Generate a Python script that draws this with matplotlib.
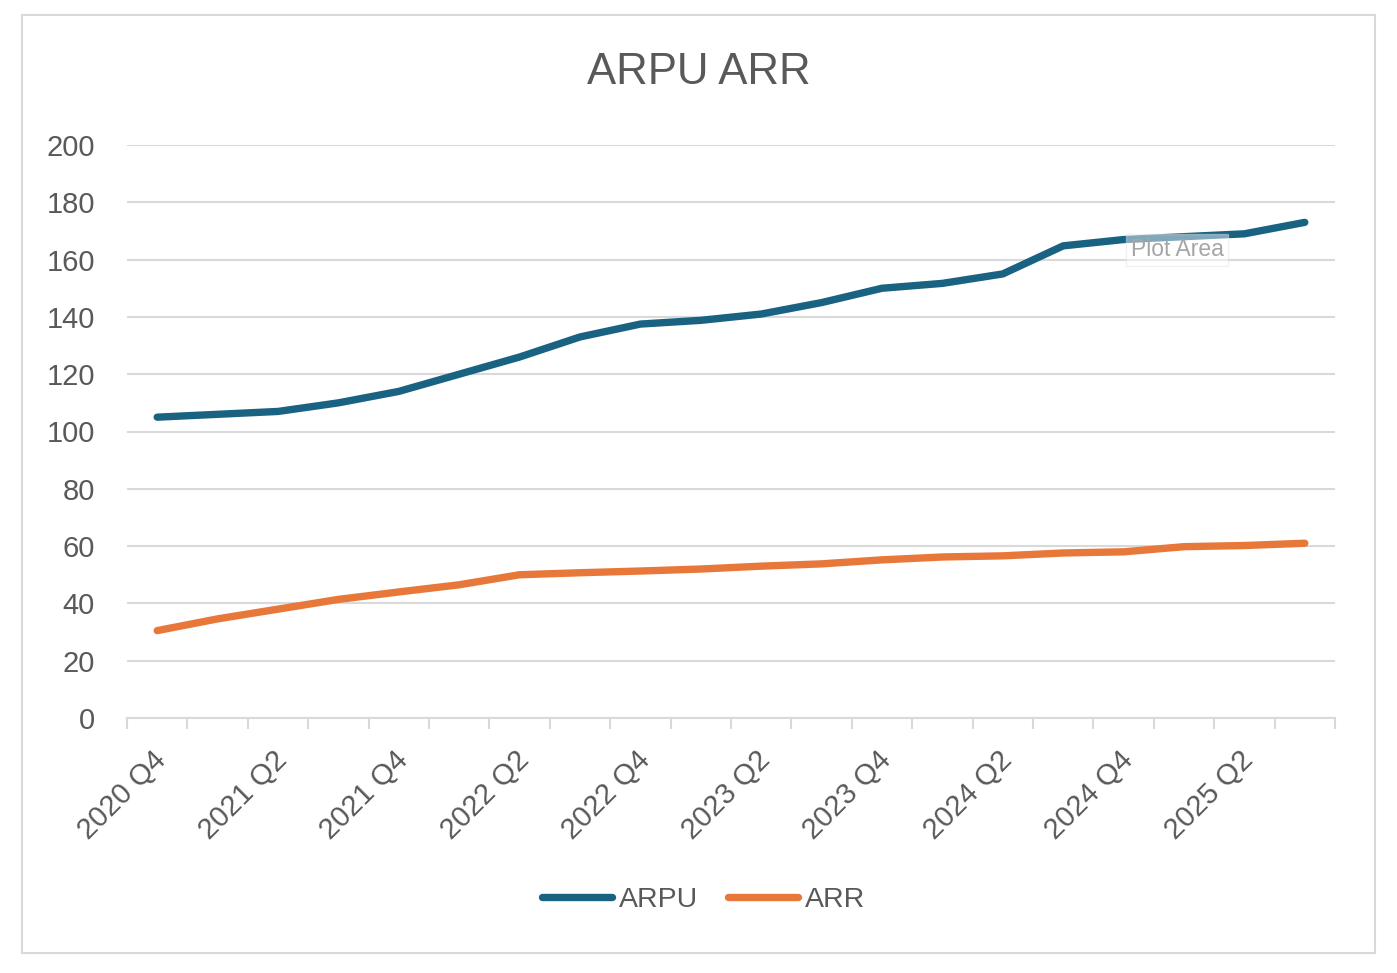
import matplotlib
matplotlib.use("Agg")
import matplotlib.pyplot as plt
from matplotlib.patches import Rectangle
from matplotlib.transforms import ScaledTranslation
import numpy as np

plt.rcParams['font.family'] = ['Liberation Sans', 'DejaVu Sans']

quarters = ["2020 Q4", "2021 Q1", "2021 Q2", "2021 Q3", "2021 Q4",
            "2022 Q1", "2022 Q2", "2022 Q3", "2022 Q4",
            "2023 Q1", "2023 Q2", "2023 Q3", "2023 Q4",
            "2024 Q1", "2024 Q2", "2024 Q3", "2024 Q4",
            "2025 Q1", "2025 Q2", "2025 Q3"]
arpu = [105, 106, 107, 110, 114, 120, 126, 133, 137.5, 138.8,
        141, 145, 150, 151.7, 155, 164.8, 167, 168, 169, 173]
arr = [30.5, 34.6, 38, 41.4, 44, 46.5, 50, 50.7, 51.3, 52,
       53, 53.8, 55.2, 56.2, 56.6, 57.6, 58, 59.8, 60.2, 61]
yticks = [0, 20, 40, 60, 80, 100, 120, 140, 160, 180, 200]

W, H = 1397, 973
fig = plt.figure(figsize=(W / 100, H / 100), dpi=100)
txt = '#595959'
grid = '#D9D9D9'

# chart border
fig.patches.append(Rectangle((22 / W, 1 - 953 / H), (1375 - 22) / W, (953 - 15) / H,
                             transform=fig.transFigure, fill=False,
                             edgecolor=grid, linewidth=1.5, zorder=0))

ax = fig.add_axes([127 / W, 1 - 718 / H, (1335 - 127) / W, (718 - 145) / H])
x = np.arange(len(quarters))
ax.plot(x, arpu, color='#1A6282', lw=5.3, solid_capstyle='round',
        solid_joinstyle='round', label='ARPU', zorder=3)
ax.plot(x, arr, color='#E8773A', lw=5.3, solid_capstyle='round',
        solid_joinstyle='round', label='ARR', zorder=3)

ax.set_xlim(-0.5, len(quarters) - 0.5)
ax.set_ylim(0, 200)
ax.set_yticks(yticks)
ax.set_yticklabels([str(v) for v in yticks])
ax.tick_params(axis='y', length=0, pad=23, labelsize=21, labelcolor=txt)
for t in ax.get_yticklabels():
    t.set_horizontalalignment('right')
ax.grid(axis='y', color=grid, lw=1.5, zorder=0)
ax.set_axisbelow(True)

# x axis: boundary ticks, labels every 2 quarters
ax.set_xticks(np.arange(-0.5, len(quarters)), labels=[''] * (len(quarters) + 1))
ax.set_xticks(x[::2], labels=quarters[::2], minor=True)
ax.tick_params(axis='x', which='major', length=8, width=1.5, color=grid)
ax.tick_params(axis='x', which='minor', length=0, pad=27, labelsize=21, labelcolor=txt)
for t in ax.get_xticklabels(minor=True):
    t.set_rotation(45)
    t.set_horizontalalignment('right')
    t.set_verticalalignment('center')
    t.set_rotation_mode('anchor')
    t.set_transform(t.get_transform() + ScaledTranslation(5 / 100, 0, fig.dpi_scale_trans))

for s in ['top', 'right', 'left']:
    ax.spines[s].set_visible(False)
ax.spines['bottom'].set_color(grid)
ax.spines['bottom'].set_linewidth(1.5)

fig.text(0.5, 1 - 72 / H, 'ARPU ARR', ha='center', va='center', fontsize=31.5, color=txt)

fig.legend(loc='center', bbox_to_anchor=(704 / W, 1 - 900 / H), ncol=2, frameon=False,
           fontsize=20.5, labelcolor=txt, handlelength=2.45, handletextpad=0.25,
           columnspacing=1.05)

# Excel tooltip
fig.text(1131 / W, 1 - 250 / H, 'Plot Area', ha='left', va='center', fontsize=16.5,
         color='#A6A6A6',
         bbox=dict(boxstyle='square,pad=0.2', facecolor='white', alpha=0.45,
                   edgecolor='#E0E0E0', linewidth=1))

fig.savefig('out.png', dpi=100, facecolor='white')
